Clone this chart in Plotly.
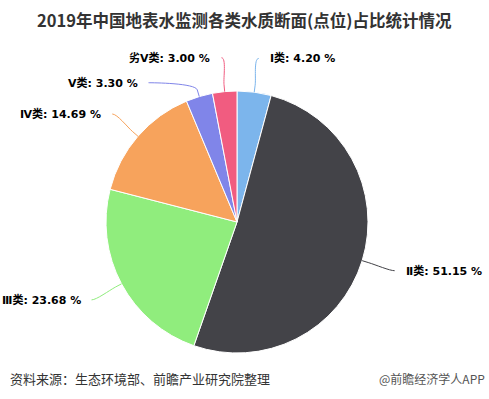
import math
import plotly.graph_objects as go

# ---- data ----
categories = ["Ⅰ类", "Ⅱ类", "Ⅲ类", "Ⅳ类", "Ⅴ类", "劣Ⅴ类"]
shares = [4.20, 51.15, 23.68, 14.69, 3.30, 3.00]
colors = ["#7cb5ec", "#434348", "#90ed7d", "#f7a35c", "#8085e9", "#f15c80"]
title_text = "2019年中国地表水监测各类水质断面(点位)占比统计情况"
source_text = "资料来源：生态环境部、前瞻产业研究院整理"
credit_text = "@前瞻经济学人APP"

# ---- layout constants (pixels) ----
W, H = 489, 399
CX, CY, R = 237, 222, 131
LABEL_DIST = 34
PAD = 9
MIN_GAP = 25
CONN_OFF = 7


def to_paper(x, y):
    return x / W, 1 - y / H


fig = go.Figure(
    go.Pie(
        labels=categories,
        values=shares,
        sort=False,
        direction="clockwise",
        rotation=0,
        marker=dict(colors=colors, line=dict(color="white", width=1)),
        textinfo="none",
        hoverinfo="label+percent",
        showlegend=False,
        domain=dict(
            x=[(CX - R) / W, (CX + R) / W],
            y=[1 - (CY + R) / H, 1 - (CY - R) / H],
        ),
    )
)

# ---- label placement (Highcharts-like) ----
total = sum(shares)
cum = 0.0
items = []
for name, v, c in zip(categories, shares, colors):
    mid = (cum + v / 2) / total
    cum += v
    th = 2 * math.pi * mid
    right = math.sin(th) >= 0
    ny = CY - (R + LABEL_DIST) * math.cos(th)
    items.append(dict(name=name, v=v, c=c, th=th, right=right, y=ny))

RL = R + LABEL_DIST
for side in (True, False):
    grp = sorted([it for it in items if it["right"] == side], key=lambda d: d["y"])
    prev = None
    for it in grp:
        if prev is not None and it["y"] < prev + MIN_GAP:
            it["y"] = prev + MIN_GAP
        prev = it["y"]

shapes = []
annotations = []
for it in items:
    th = it["th"]
    y = it["y"]
    dy = max(-RL, min(RL, y - CY))
    dx = math.sqrt(RL * RL - dy * dy)
    x = CX + dx if it["right"] else CX - dx
    tx, ty = CX + R * math.sin(th), CY - R * math.cos(th)
    bx, by = CX + (R + CONN_OFF) * math.sin(th), CY - (R + CONN_OFF) * math.cos(th)
    c1x = x - 5 if it["right"] else x + 5
    c2x, c2y = 2 * bx - tx, 2 * by - ty
    pts = [to_paper(x, y), to_paper(c1x, y), to_paper(c2x, c2y), to_paper(bx, by), to_paper(tx, ty)]
    path = "M {0[0]} {0[1]} C {1[0]} {1[1]}, {2[0]} {2[1]}, {3[0]} {3[1]} L {4[0]} {4[1]}".format(*pts)
    shapes.append(dict(type="path", xref="paper", yref="paper", path=path,
                       line=dict(color=it["c"], width=1)))
    lx = x + PAD if it["right"] else x - PAD
    px_, py_ = to_paper(lx, y)
    annotations.append(dict(
        x=px_, y=py_, xref="paper", yref="paper", showarrow=False,
        xanchor="left" if it["right"] else "right", yanchor="middle",
        text="{}: {:.2f} %".format(it["name"], it["v"]),
        font=dict(family="DejaVu Sans, Noto Sans CJK SC", size=11, color="#000000", weight="bold"),
    ))

# title
tx_, ty_ = to_paper(244.5, 20)
annotations.append(dict(
    x=tx_, y=ty_, xref="paper", yref="paper", showarrow=False,
    xanchor="center", yanchor="middle", text=title_text,
    font=dict(family="Noto Sans CJK SC", size=16.5, color="#333333", weight="bold"),
))
# footer
sx, sy = to_paper(8, 378)
annotations.append(dict(
    x=sx, y=sy, xref="paper", yref="paper", showarrow=False,
    xanchor="left", yanchor="middle", text=source_text,
    font=dict(family="Noto Sans CJK SC", size=13, color="#333333"),
))
cx_, cy_ = to_paper(487, 378)
annotations.append(dict(
    x=cx_, y=cy_, xref="paper", yref="paper", showarrow=False,
    xanchor="right", yanchor="middle", text=credit_text,
    font=dict(family="Noto Sans CJK SC", size=12, color="#555555"),
))

fig.update_layout(
    width=W, height=H,
    margin=dict(l=0, r=0, t=0, b=0),
    paper_bgcolor="white", plot_bgcolor="white",
    shapes=shapes, annotations=annotations,
    showlegend=False,
)

fig.write_html("out.html", config={"displayModeBar": False})
